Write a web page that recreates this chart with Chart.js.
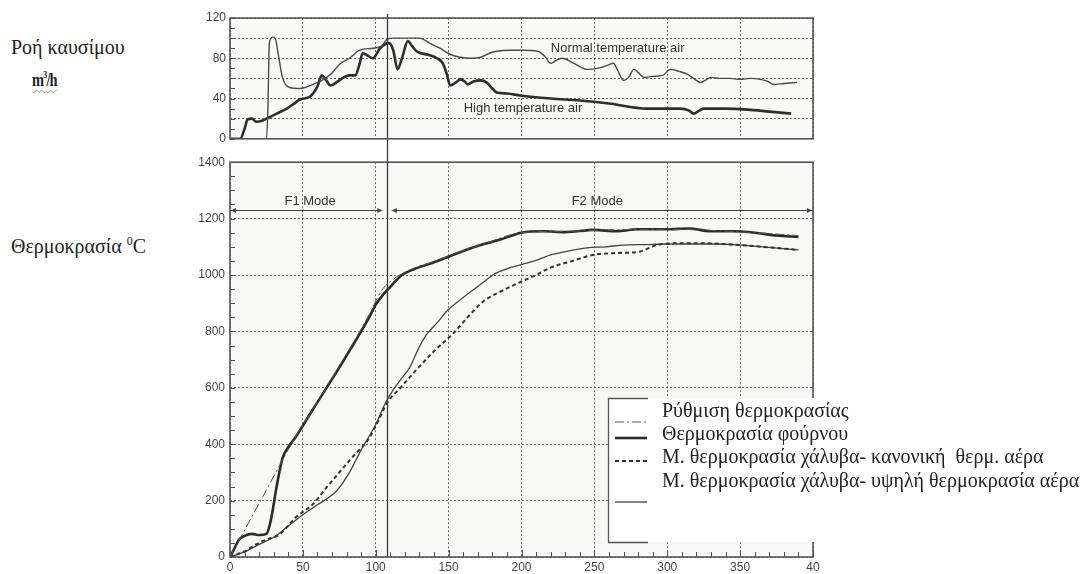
<!DOCTYPE html>
<html>
<head>
<meta charset="utf-8">
<script src="https://cdn.jsdelivr.net/npm/chart.js@4/dist/chart.umd.min.js"></script>
<style>
  html, body { margin: 0; padding: 0; background: #fff; }
  body { width: 1087px; height: 574px; overflow: hidden; position: relative; font-family: 'Liberation Serif', 'Times New Roman', serif; color: #222; }
  canvas { position: absolute; left: 0; }
  #flowChart { top: 0; }
  #tempChart { top: 150px; }
  .side { position: absolute; font-size: 20px; white-space: nowrap; line-height: 1; }
  .side sup { font-size: 12px; vertical-align: 8px; }
  .unit { display: inline-block; transform: scaleX(0.8); transform-origin: left center; text-decoration: underline wavy #6aa84f; text-decoration-thickness: 1px; text-underline-offset: 3px; font-weight: bold; font-size: 18px; letter-spacing: -1px; }
  .unit sup { font-size: 10px; vertical-align: 8px; }
</style>
</head>
<body>
<div class="side" style="left:11px; top:37px;">Ροή καυσίμου</div>
<div class="side" style="left:32px; top:69px;"><span class="unit">m<sup>3</sup>/h</span></div>
<div class="side" style="left:11px; top:235px;">Θερμοκρασία <sup>0</sup>C</div>
<canvas id="flowChart" width="1087" height="150"></canvas>
<canvas id="tempChart" width="1087" height="424"></canvas>
<script>
// ---- axis ticks ----
const timeTicks = [0, 50, 100, 150, 200, 250, 300, 350, 400];
const timeTickLabels = ['0', '50', '100', '150', '200', '250', '300', '350', '40'];
const flowTickLabels = [0, 40, 80, 120];
const tempTicks = [0, 200, 400, 600, 800, 1000, 1200, 1400];

// ---- fuel flow (m3/h) ----
const normalAirX = [0, 12, 20, 23, 25, 26, 27, 29, 31, 33, 36, 41, 48, 57, 63, 69, 76, 82, 89, 98, 104, 108, 112, 130, 137, 144, 151, 158, 165, 172, 178, 183, 192, 201, 211, 216, 220, 224, 228, 236, 245, 252, 259, 263, 266, 270, 274, 277, 280, 284, 290, 297, 302, 308, 314, 318, 323, 326, 330, 336, 343, 350, 357, 364, 369, 373, 380, 389];
const normalAirY = [0, 0, 0, -1, -1, 30, 95, 101, 100, 85, 61, 51, 50, 54, 58, 64, 75, 80, 88, 90, 92, 99, 100, 100, 95, 90, 84, 81, 80, 81, 85, 87, 88, 88, 87, 82, 75, 78, 80, 75, 69, 70, 73, 75, 68, 58, 62, 69, 66, 61, 62, 63, 69, 67, 64, 60, 56, 58, 61, 60, 60, 59, 60, 59, 57, 54, 55, 56];

const highAirX = [0, 7, 10, 12, 15, 18, 22, 25, 32, 39, 44, 48, 55, 60, 63, 66, 69, 74, 78, 82, 86, 89, 91, 94, 98, 103, 109, 112, 115, 118, 122, 125, 128, 137, 142, 146, 149, 151, 155, 158, 161, 163, 167, 172, 176, 180, 183, 190, 199, 220, 240, 260, 286, 300, 309, 315, 318, 322, 325, 340, 355, 370, 385];
const highAirY = [0, 0, 10, 19, 20, 17, 18, 20, 25, 30, 35, 39, 42, 52, 63, 58, 53, 57, 61, 63, 63, 75, 85, 83, 80, 90, 95, 88, 69, 80, 97, 92, 87, 83, 80, 75, 63, 53, 56, 59, 57, 54, 57, 58, 56, 50, 46, 45, 43, 40, 38, 35, 30, 30, 30, 28, 25, 28, 30, 30, 29, 27, 25];

// ---- temperatures (°C) ----
const setpointX = [0, 20, 43, 60, 80, 95, 104, 112, 125, 140, 150, 172, 200, 230, 260, 300, 330, 360, 390];
const setpointY = [0, 190, 408, 550, 720, 855, 945, 985, 1022, 1048, 1068, 1106, 1150, 1155, 1160, 1162, 1158, 1150, 1140];

const furnaceX = [0, 3, 6, 10, 15, 20, 25, 28, 32, 36, 40, 45, 55, 65, 75, 85, 95, 100, 105, 110, 118, 126, 140, 150, 160, 172, 185, 200, 215, 230, 250, 265, 280, 300, 315, 330, 345, 360, 375, 390];
const furnaceY = [0, 30, 60, 75, 82, 78, 82, 130, 250, 350, 390, 425, 508, 590, 672, 757, 845, 895, 930, 958, 1000, 1020, 1045, 1065, 1085, 1106, 1125, 1150, 1155, 1152, 1160, 1155, 1162, 1162, 1165, 1155, 1155, 1150, 1140, 1135];

const steelNormalX = [0, 5, 10, 18, 25, 34, 45, 57, 66, 75, 85, 94, 100, 108, 117, 126, 140, 153, 163, 174, 187, 200, 210, 220, 235, 249, 265, 280, 293, 311, 330, 350, 370, 390];
const steelNormalY = [0, 10, 20, 45, 62, 80, 140, 188, 245, 300, 360, 410, 465, 548, 600, 653, 730, 792, 850, 907, 945, 977, 1000, 1026, 1050, 1071, 1078, 1082, 1106, 1113, 1112, 1106, 1098, 1089];

const steelHighX = [0, 10, 20, 30, 40, 50, 60, 73, 82, 90, 100, 106, 112, 117, 123, 130, 135, 142, 149, 160, 172, 181, 190, 200, 210, 220, 232, 245, 258, 270, 285, 300, 320, 335, 350, 370, 390];
const steelHighY = [0, 18, 45, 70, 110, 150, 185, 234, 300, 380, 470, 540, 593, 628, 670, 746, 790, 830, 873, 920, 967, 1002, 1022, 1037, 1052, 1071, 1085, 1096, 1100, 1106, 1108, 1110, 1110, 1110, 1106, 1098, 1089];

// ---- annotations ----
const modeSwitch = 108;
const modeLevel = 1230;
const modeLabels = [{ text: 'F1 Mode', x: 55 }, { text: 'F2 Mode', x: 252 }];
const flowLabels = [
  { text: 'Normal temperature air', x: 266, y: 90 },
  { text: 'High temperature air', x: 201, y: 30 }
];
const legendLabels = [
  'Ρύθμιση θερμοκρασίας',
  'Θερμοκρασία φούρνου',
  'Μ. θερμοκρασία χάλυβα- κανονική  θερμ. αέρα',
  'Μ. θερμοκρασία χάλυβα- υψηλή θερμοκρασία αέρα'
];

const pts = (xs, ys) => xs.map((x, i) => ({ x: x, y: ys[i] }));

const GRID = 'rgba(70,70,70,0.8)';
const TICK_FONT = { family: "'Liberation Sans', Arial, sans-serif", size: 12 };

// panel background, frame, inward minor ticks and the mode-switch line
const panelPlugin = {
  id: 'panel',
  beforeDraw(chart) {
    const a = chart.chartArea, c = chart.ctx;
    c.save();
    c.fillStyle = '#f8f8f6';
    c.fillRect(a.left, a.top, a.right - a.left, a.bottom - a.top);
    c.restore();
  },
  afterDatasetsDraw(chart, args, o) {
    const a = chart.chartArea, c = chart.ctx;
    const xs = chart.scales.x, ys = chart.scales.y;
    c.save();
    c.strokeStyle = '#555';
    c.lineWidth = 1;
    for (let v = ys.min; v <= ys.max; v += o.yMinor) {
      const p = Math.round(ys.getPixelForValue(v)) + 0.5;
      c.beginPath(); c.moveTo(a.left, p); c.lineTo(a.left + 5, p); c.stroke();
    }
    if (o.xMinor) {
      for (let v = xs.min; v <= xs.max; v += o.xMinor) {
        const p = Math.round(xs.getPixelForValue(v)) + 0.5;
        const len = v % 50 === 0 ? 7 : 5;
        c.beginPath(); c.moveTo(p, a.bottom); c.lineTo(p, a.bottom - len); c.stroke();
      }
    }
    // mode switch line
    const sx = Math.round(xs.getPixelForValue(modeSwitch)) + 0.5;
    c.strokeStyle = '#3a3a3a';
    c.lineWidth = 1.3;
    c.beginPath(); c.moveTo(sx, o.lineTop(a)); c.lineTo(sx, o.lineBottom(a, chart)); c.stroke();
    // frame
    c.strokeStyle = '#555';
    c.lineWidth = 1.6;
    c.strokeRect(a.left, a.top, a.right - a.left, a.bottom - a.top);
    c.restore();
  }
};

function arrowHead(c, x, y, dir) {
  c.beginPath();
  c.moveTo(x, y);
  c.lineTo(x - dir * 5, y - 2.5);
  c.lineTo(x - dir * 5, y + 2.5);
  c.closePath();
  c.fill();
}

// F1 / F2 operating mode bar
const modePlugin = {
  id: 'modes',
  afterDatasetsDraw(chart) {
    const c = chart.ctx, xs = chart.scales.x, ys = chart.scales.y;
    const y = Math.round(ys.getPixelForValue(modeLevel)) + 0.5;
    const x0 = xs.getPixelForValue(0), x1 = xs.getPixelForValue(400);
    const sA = xs.getPixelForValue(modeSwitch - 3.5), sB = xs.getPixelForValue(modeSwitch + 3);
    c.save();
    c.strokeStyle = '#444'; c.fillStyle = '#444'; c.lineWidth = 1.2;
    c.beginPath(); c.moveTo(x0, y); c.lineTo(sA, y); c.stroke();
    c.beginPath(); c.moveTo(sB, y); c.lineTo(x1, y); c.stroke();
    arrowHead(c, x0 + 1, y, -1);
    arrowHead(c, sA, y, 1);
    arrowHead(c, sB, y, -1);
    arrowHead(c, x1 - 1, y, 1);
    c.font = "13px 'Liberation Sans', Arial, sans-serif";
    c.fillStyle = '#333';
    c.textAlign = 'center';
    c.textBaseline = 'bottom';
    modeLabels.forEach(m => c.fillText(m.text, xs.getPixelForValue(m.x), y - 3));
    c.restore();
  }
};

// curve names written inside the fuel flow panel
const flowLabelPlugin = {
  id: 'flowLabels',
  afterDatasetsDraw(chart) {
    const c = chart.ctx, xs = chart.scales.x, ys = chart.scales.y;
    c.save();
    c.font = "13px 'Liberation Sans', Arial, sans-serif";
    c.fillStyle = '#333';
    c.textAlign = 'center';
    c.textBaseline = 'middle';
    flowLabels.forEach(l => c.fillText(l.text, xs.getPixelForValue(l.x), ys.getPixelForValue(l.y)));
    c.restore();
  }
};

// legend box for the temperature panel
const legendPlugin = {
  id: 'boxLegend',
  afterDraw(chart) {
    const c = chart.ctx;
    const box = { left: 608, top: 248, bottom: 392, sampleEnd: 648 };
    const rows = [262, 285, 308, 332];
    const samples = [272, 288, 311, 352];
    c.save();
    c.fillStyle = '#fff';
    c.fillRect(box.left, box.top, chart.width - box.left, box.bottom - box.top);
    c.strokeStyle = '#555'; c.lineWidth = 1.3;
    c.beginPath();
    c.moveTo(box.sampleEnd, box.top + 0.5); c.lineTo(box.left + 0.5, box.top + 0.5);
    c.lineTo(box.left + 0.5, box.bottom + 0.5); c.lineTo(box.sampleEnd, box.bottom + 0.5);
    c.stroke();
    chart.data.datasets.forEach((ds, i) => {
      c.strokeStyle = ds.borderColor;
      c.lineWidth = ds.borderWidth;
      c.setLineDash(ds.borderDash || []);
      c.beginPath(); c.moveTo(615, samples[i]); c.lineTo(647, samples[i]); c.stroke();
    });
    c.setLineDash([]);
    c.fillStyle = '#222';
    c.font = "20px 'Liberation Serif', 'Times New Roman', serif";
    c.textAlign = 'left';
    c.textBaseline = 'middle';
    legendLabels.forEach((t, i) => c.fillText(t, 662, rows[i]));
    c.restore();
  }
};

function timeAxis(showLabels, height) {
  return {
    type: 'linear', min: 0, max: 400,
    afterBuildTicks: s => { s.ticks = timeTicks.map(v => ({ value: v })); },
    ticks: {
      display: showLabels, padding: 3, color: '#444', font: TICK_FONT, maxRotation: 0, autoSkip: false,
      callback: v => timeTickLabels[timeTicks.indexOf(v)]
    },
    grid: { color: GRID, lineWidth: 1, drawTicks: false },
    border: { display: false, dash: [2, 2] },
    afterFit: s => { s.height = height; }
  };
}

const lineDefaults = { pointRadius: 0, fill: false, cubicInterpolationMode: 'monotone', showLine: true };

new Chart(document.getElementById('flowChart'), {
  type: 'scatter',
  data: {
    datasets: [
      Object.assign({ label: 'Normal temperature air', data: pts(normalAirX, normalAirY), borderColor: '#4a4a4a', borderWidth: 1.4 }, lineDefaults),
      Object.assign({ label: 'High temperature air', data: pts(highAirX, highAirY), borderColor: '#2e2e2e', borderWidth: 2.6 }, lineDefaults)
    ]
  },
  options: {
    responsive: false, animation: false, devicePixelRatio: 1,
    layout: { padding: { top: 18, right: 274, left: 0, bottom: 0 } },
    plugins: {
      legend: { display: false }, tooltip: { enabled: false },
      panel: { yMinor: 10, lineTop: a => a.top - 4, lineBottom: (a, ch) => ch.height }
    },
    scales: {
      x: timeAxis(false, 7),
      y: {
        min: 0, max: 120,
        ticks: {
          stepSize: 20, padding: 4, color: '#444', font: TICK_FONT,
          callback: v => flowTickLabels.includes(v) ? String(v) : ''
        },
        grid: { color: GRID, lineWidth: 1, drawTicks: false },
        border: { display: false, dash: [2, 2] },
        afterFit: s => { s.width = 230; }
      }
    }
  },
  plugins: [panelPlugin, flowLabelPlugin]
});

new Chart(document.getElementById('tempChart'), {
  type: 'scatter',
  data: {
    datasets: [
      Object.assign({ label: legendLabels[0], data: pts(setpointX, setpointY), borderColor: '#555', borderWidth: 1, borderDash: [9, 3, 2, 3] }, lineDefaults),
      Object.assign({ label: legendLabels[1], data: pts(furnaceX, furnaceY), borderColor: '#2b2b2b', borderWidth: 2.6 }, lineDefaults),
      Object.assign({ label: legendLabels[2], data: pts(steelNormalX, steelNormalY), borderColor: '#333', borderWidth: 2, borderDash: [4, 3] }, lineDefaults),
      Object.assign({ label: legendLabels[3], data: pts(steelHighX, steelHighY), borderColor: '#444', borderWidth: 1.3 }, lineDefaults)
    ]
  },
  options: {
    responsive: false, animation: false, devicePixelRatio: 1,
    layout: { padding: { top: 5, right: 274, left: 0, bottom: 0 } },
    plugins: {
      legend: { display: false }, tooltip: { enabled: false },
      panel: { yMinor: 50, xMinor: 10, lineTop: () => 0, lineBottom: a => a.bottom }
    },
    scales: {
      x: timeAxis(true, 17),
      y: {
        min: 0, max: 1400,
        afterBuildTicks: s => { s.ticks = tempTicks.map(v => ({ value: v })); },
        ticks: { padding: 5, color: '#444', font: TICK_FONT, callback: v => String(v) },
        grid: { color: GRID, lineWidth: 1, drawTicks: false },
        border: { display: false, dash: [2, 2] },
        afterFit: s => { s.width = 230; }
      }
    }
  },
  plugins: [panelPlugin, modePlugin, legendPlugin]
});
</script>
</body>
</html>
